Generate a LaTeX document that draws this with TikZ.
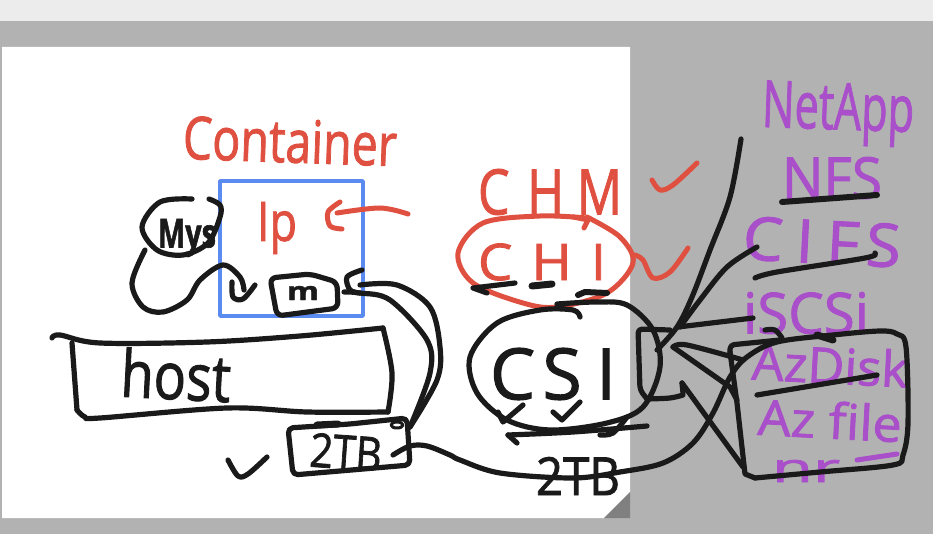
\documentclass[tikz,border=0pt]{standalone}
\usepackage{graphicx}
\usepackage{fontspec}
\setmainfont{Open Sans}
\newfontfamily\handfont[FakeBold=1.6]{Open Sans}
\definecolor{inkblack}{HTML}{1A1A1A}
\definecolor{inkred}{HTML}{E05041}
\definecolor{inkpurple}{HTML}{A94FC9}
\definecolor{boxblue}{HTML}{5B8BF0}
\definecolor{desk}{HTML}{B2B2B2}
\definecolor{topbar}{HTML}{ECECEC}
\definecolor{fold}{HTML}{808080}
\newcommand{\fitbox}[3]{\resizebox*{#1pt}{#2pt}{\handfont #3}}
\newcommand{\pen}[2]{\draw[#1] plot[smooth,tension=.55] coordinates {#2};}
\tikzset{
  ink/.style={draw=inkblack,line width=5.2pt,line cap=round,line join=round},
  thickink/.style={ink,line width=7pt},
  redink/.style={draw=inkred,line width=5pt,line cap=round,line join=round},
  hand/.style={inner sep=0pt,outer sep=0pt,anchor=center},
  redlabel/.style={hand,text=inkred},
  blacklabel/.style={hand,text=inkblack},
  purplelabel/.style={hand,text=inkpurple},
}
\begin{document}
\begin{tikzpicture}[x=1pt,y=-1pt]
\useasboundingbox (0,0) rectangle (933,534);
% desk and page
\fill[desk] (0,0) rectangle (933,534);
\fill[topbar] (0,0) rectangle (933,21);
\fill[white] (2,47) -- (630,47) -- (630,492) -- (604,518) -- (2,518) -- cycle;
\fill[fold] (630,492) -- (630,518) -- (604,518) -- cycle;
% labels
\node[redlabel,rotate=-2] (container) at (290,141) {\fitbox{214}{44}{Container}};
\node[redlabel] (ip) at (277,228) {\fitbox{40}{52}{Ip}};
\node[redlabel] (chm) at (550,192) {\fitbox{144}{46}{C\kern.35em H\kern.25em M}};
\node[redlabel] (chi) at (542,262) {\fitbox{128}{37}{C\kern.35em H\kern.35em I}};
\node[blacklabel] (mys) at (187,238) {\fitbox{58}{38}{\bfseries Mys}};
\node[blacklabel] (m) at (303,293) {\fitbox{32}{14}{\bfseries m}};
\node[blacklabel,rotate=-3] (host) at (176,375) {\fitbox{110}{50}{host}};
\node[blacklabel,rotate=-4] (tb1) at (346,452) {\fitbox{72}{34}{2TB}};
\node[blacklabel] (csi) at (553,374) {\fitbox{126}{52}{C\kern.1em S\kern.2em I}};
\node[blacklabel] (tb2) at (578,476) {\fitbox{84}{38}{2TB}};
\node[purplelabel,rotate=-2] (netapp) at (838,114) {\fitbox{152}{62}{NetApp}};
\node[purplelabel] (nfs) at (832,178) {\fitbox{100}{42}{NFS}};
\node[purplelabel,rotate=-3] (cifs) at (822,242) {\fitbox{158}{44}{C\kern.2em I\kern.2em F\kern.1em S}};
\node[purplelabel] (iscsi) at (806,313) {\fitbox{126}{42}{iSCSi}};
\node[purplelabel,rotate=-3] (azdisk) at (830,365) {\fitbox{156}{38}{AzDisk}};
\node[purplelabel,rotate=-3] (azfile) at (830,420) {\fitbox{144}{38}{Az file}};
\node[purplelabel] (nr) at (806,471) {\fitbox{68}{22}{nr}};
\draw[draw=inkpurple,line width=5pt,line cap=round] (857,460) -- (897,454);
% container box
\draw[boxblue,line width=3.4pt,line join=round] (220,181) rectangle (363,316);
% red strokes
\pen{redink}{(340,202) (328,212) (330,226) (342,229)}
\pen{redink}{(337,213) (380,208) (408,214)}
\pen{redink}{(587,218) (540,216) (483,223) (458,253) (473,283) (523,303) (557,307) (607,293) (633,263) (620,237) (587,217)}
\draw[redink] (573,217) -- (588,220) -- (584,228);
\pen{redink}{(635,255) (643,260) (653,278) (670,272) (688,248)}
\pen{redink}{(652,180) (660,190) (673,185) (697,163)}
% MySQL ellipse and wire
\pen{ink}{(192,199) (160,202) (142,227) (157,250) (183,255) (208,243) (220,217) (220,205) (209,199)}
\coordinate (wirestart) at (145,250);
\coordinate (wireend) at (244,290);
\pen{ink}{(wirestart) (132,283) (143,307) (163,312) (187,300) (200,280) (223,265) (240,277) (wireend)}
\pen{ink}{(232,282) (233,297) (243,299) (255,285)}
% small m box
\draw[ink,rounded corners=6pt] (270,278) -- (310,274) -- (337,282) -- (338,308) -- (277,316) -- cycle;
% hook and two wires to the 2TB box
\pen{ink}{(362,270) (347,277) (350,290) (360,293)}
\coordinate (hookA) at (360,285);
\coordinate (hookB) at (344,292);
\coordinate (diskin) at (410,427);
\pen{ink}{(hookA) (397,285) (430,307) (440,347) (437,380) (diskin)}
\pen{ink}{(hookB) (360,293) (390,300) (427,340) (430,373) (diskin)}
% host box
\pen{ink}{(52,338) (60,335) (100,343) (207,342) (300,336) (383,328)}
\pen{ink}{(383,328) (392,373) (388,412)}
\pen{ink}{(388,412) (307,412) (227,408) (100,418) (85,417) (77,410)}
\draw[ink] (77,410) -- (72,343);
% 2TB box
\draw[ink,rounded corners=5pt] (288,428) -- (350,424) -- (407,418) -- (410,465) -- (293,475) -- cycle;
\draw[thickink] (317,425) -- (338,424);
\draw[ink,line width=3pt] (397,425) ellipse (6 and 3);
% check beside 2TB
\pen{ink}{(228,460) (238,476) (248,474) (267,457)}
% link from 2TB to big box
\coordinate (diskout) at (393,455);
\pen{ink}{(diskout) (410,446) (427,446) (450,455) (460,460) (500,473) (573,478) (620,472) (663,463) (693,443) (713,413) (730,377) (747,357) (777,342) (833,335) (880,331) (897,334) (906,347) (908,423) (903,455) (893,465) (820,472) (755,478)}
\draw[ink] (755,478) -- (745,474) -- (737,403) -- (730,352);
\draw[ink,rounded corners=4pt] (730,352) -- (730,345) -- (780,340);
% CSI blob
\pen{ink}{(580,317) (573,310) (540,310) (497,323) (470,357) (477,393) (507,420) (550,430) (607,423) (643,407) (660,367) (653,330) (627,305) (597,302) (557,304)}
% checks and arrow under CSI
\draw[ink] (498,412) -- (503,422) -- (523,405);
\draw[ink] (553,412) -- (562,420) -- (580,402);
\pen{ink}{(647,426) (573,432) (508,435)}
\draw[ink] (508,435) -- (517,443);
\pen{ink}{(627,417) (613,433) (600,435)}
% dashes under CHI
\draw[ink] (487,293) -- (473,288) -- (515,283);
\draw[thickink] (532,286) -- (552,284);
\draw[ink,line width=6pt] (578,295) -- (585,292) -- (607,293);
% small box right of CSI
\draw[ink,rounded corners=4pt] (670,330) -- (638,329) -- (640,390) -- (647,399);
\pen{ink}{(647,399) (670,398) (683,395)}
% fan of lines to the drivers
\coordinate (fan) at (657,350);
\pen{ink}{(741,139) (730,197) (710,250) (692,297) (677,327) (fan)}
\pen{ink}{(757,247) (727,267) (700,300) (680,327)}
\draw[ink] (678,327) -- (753,318);
\pen{ink}{(673,347) (687,345) (743,360)}
\draw[ink] (673,347) -- (730,387) -- (737,400);
\draw[ink] (682,383) -- (743,467);
\draw[ink] (682,383) -- (683,393);
% underlines
\draw[ink,line width=6pt] (782,202) -- (877,195);
\pen{ink}{(755,278) (777,272) (865,258) (875,253)}
\draw[ink] (757,395) -- (877,375);
\pen{ink}{(765,330) (775,330) (782,338)}
\draw[thickink] (817,335) -- (833,340);
\end{tikzpicture}
\end{document}
